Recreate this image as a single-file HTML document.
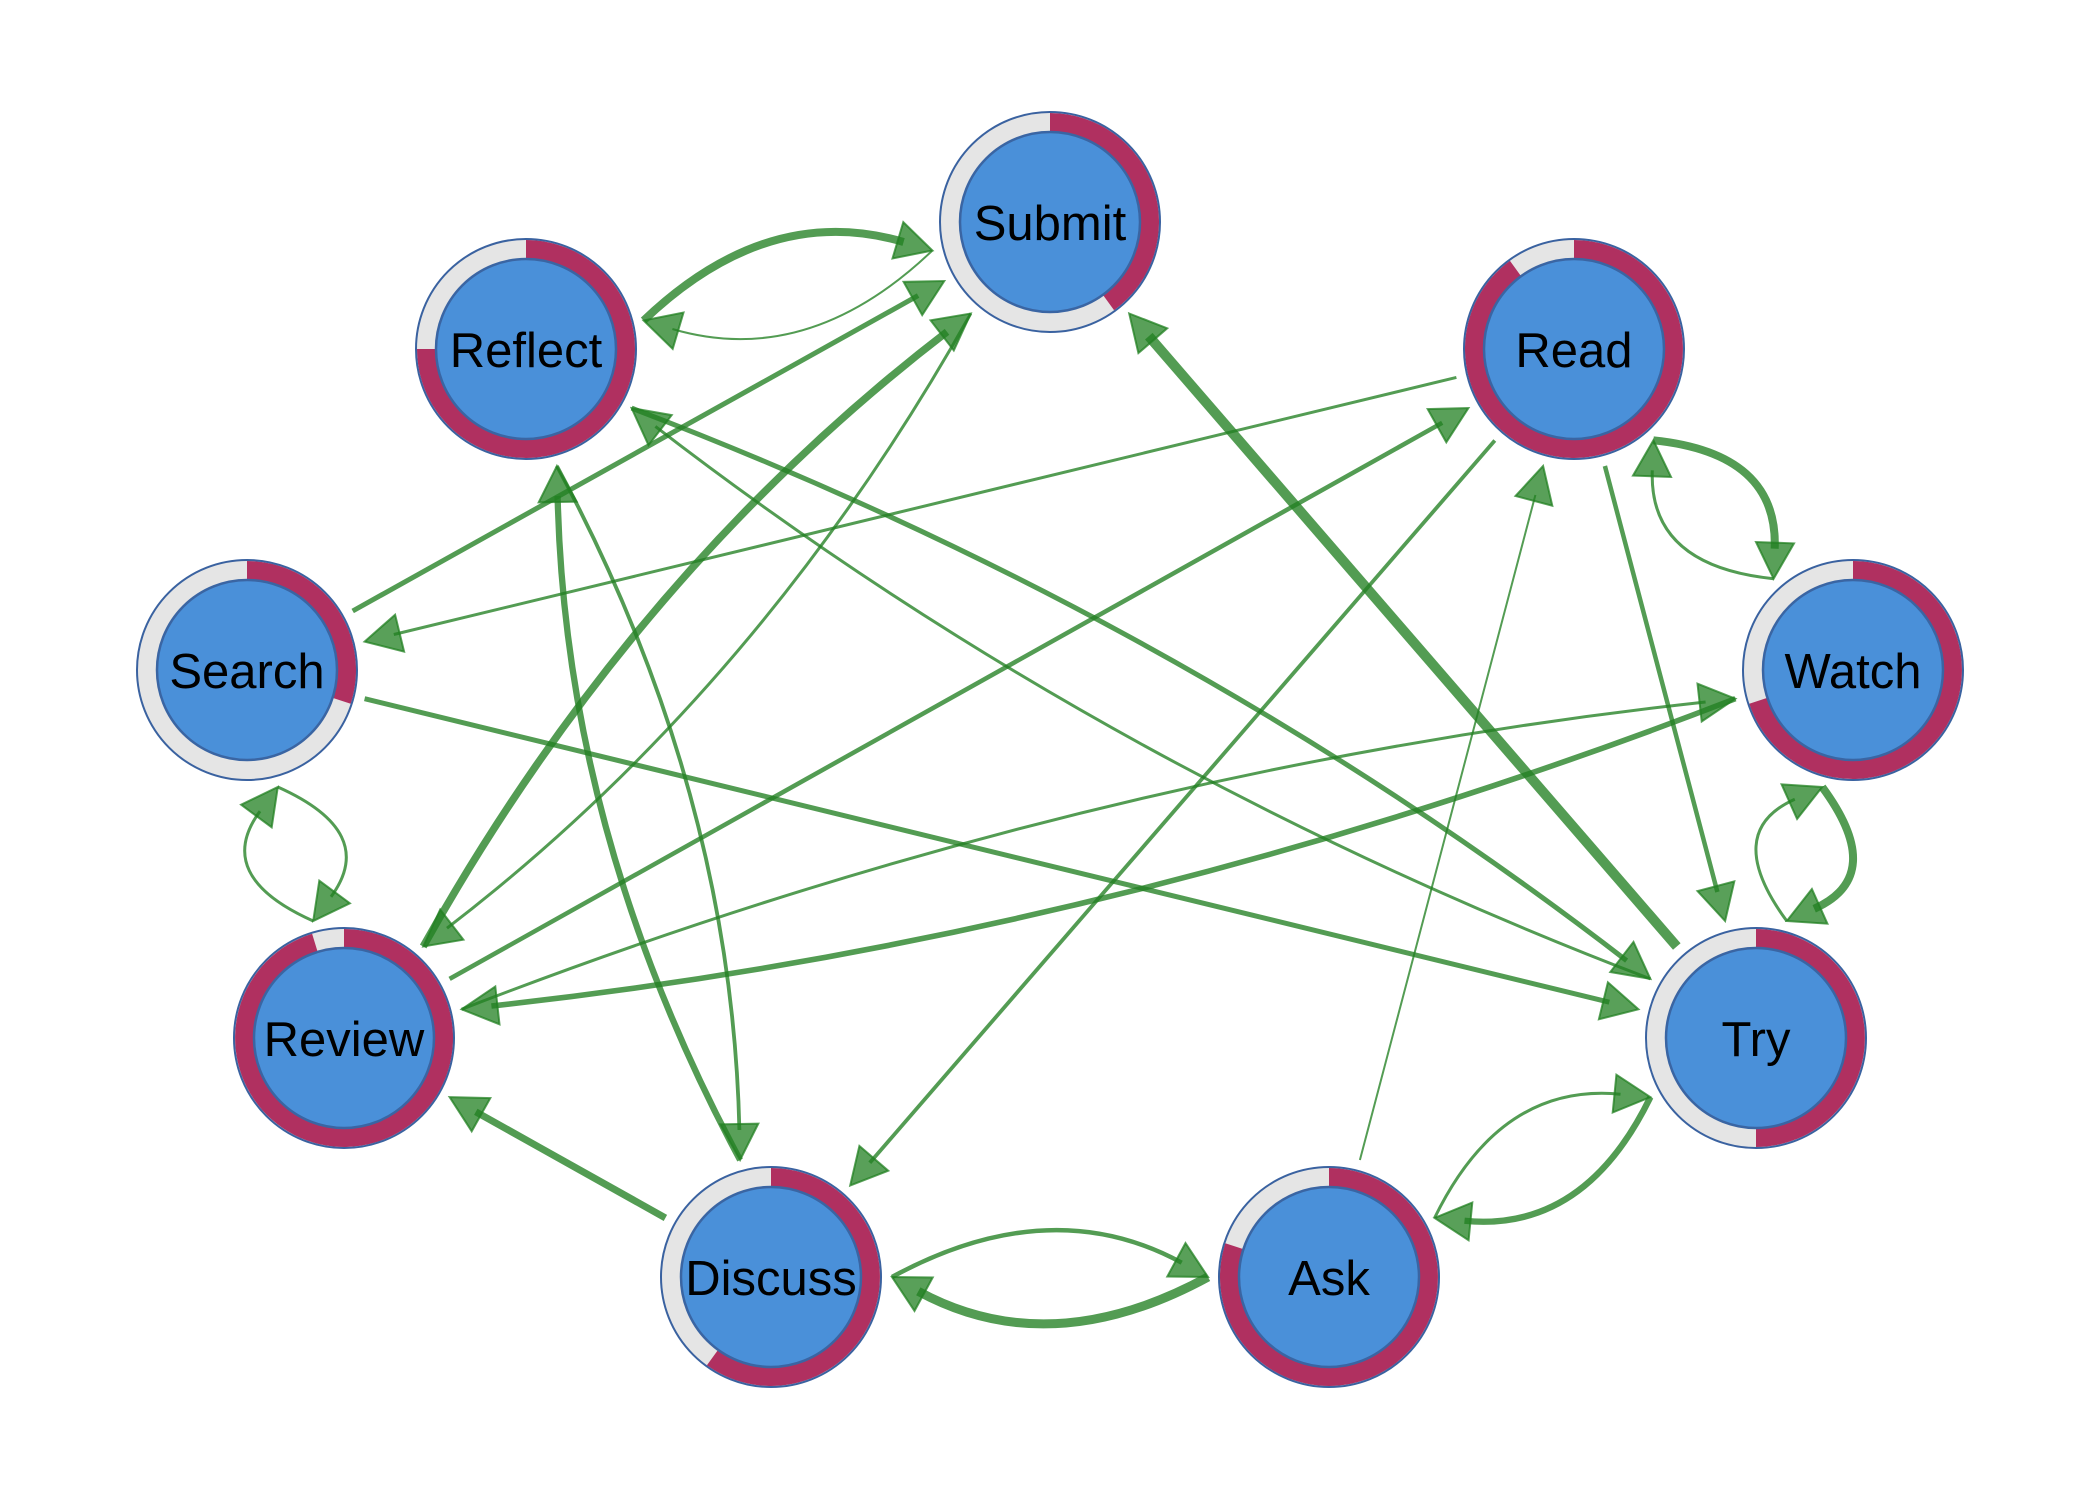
<!DOCTYPE html>
<html>
<head>
<meta charset="utf-8">
<style>
  html, body { margin: 0; padding: 0; background: #ffffff; }
  body { width: 2100px; height: 1500px; overflow: hidden; }
  svg { display: block; }
  .e { fill: none; stroke: rgb(34,128,34); stroke-opacity: 0.78; stroke-linecap: butt; }
  .h { fill: rgb(34,128,34); fill-opacity: 0.75; stroke: rgb(34,128,34); stroke-opacity: 0.75; stroke-width: 2; stroke-linejoin: miter; }
  .ring { fill: #e5e5e5; }
  .red { fill: #b03060; }
  .ob { fill: none; stroke: #3a62a0; stroke-width: 2; }
  .inner { fill: #4a90d9; stroke: #3a65a3; stroke-width: 2.5; }
  .lbl { font-family: "Liberation Sans", Arial, Helvetica, sans-serif; font-size: 49px; fill: #000; text-anchor: middle; }
</style>
</head>
<body>
<svg width="2100" height="1500" viewBox="0 0 2100 1500" xmlns="http://www.w3.org/2000/svg">
  <rect x="0" y="0" width="2100" height="1500" fill="#ffffff"/>

  <!-- Straight edges -->
  <!-- Search -> Submit -->
  <line class="e" x1="352.7" y1="611" x2="918.1" y2="295.6" stroke-width="5"/>
  <polygon class="h" points="944.3,281 922.2,315.1 903.6,281.9"/>
  <!-- Read -> Search -->
  <line class="e" x1="1456.4" y1="377.4" x2="393.8" y2="634.5" stroke-width="3"/>
  <polygon class="h" points="364.6,641.6 395.1,614.7 404.1,651.6"/>
  <!-- Search -> Try -->
  <line class="e" x1="364.6" y1="698.7" x2="1609.3" y2="1002.2" stroke-width="5"/>
  <polygon class="h" points="1638.4,1009.3 1598.9,1019.3 1607.9,982.3"/>
  <!-- Review -> Read -->
  <line class="e" x1="449.6" y1="978.9" x2="1442.2" y2="422.8" stroke-width="4.5"/>
  <polygon class="h" points="1468.4,408.1 1446.3,442.3 1427.7,409.1"/>
  <!-- Read -> Discuss -->
  <line class="e" x1="1494.8" y1="440.5" x2="869.8" y2="1162.8" stroke-width="3.8"/>
  <polygon class="h" points="850.2,1185.5 859.4,1145.9 888.2,1170.7"/>
  <!-- Ask -> Read -->
  <line class="e" x1="1359.9" y1="1160" x2="1535.4" y2="495" stroke-width="2"/>
  <polygon class="h" points="1543.1,466 1552.3,505.7 1515.5,496"/>
  <!-- Read -> Try -->
  <line class="e" x1="1604.9" y1="466" x2="1717.4" y2="892" stroke-width="4.5"/>
  <polygon class="h" points="1725.1,921 1697.5,891.1 1734.3,881.4"/>
  <!-- Try -> Submit -->
  <line class="e" x1="1676.8" y1="946.5" x2="1148.8" y2="336.2" stroke-width="10"/>
  <polygon class="h" points="1129.2,313.5 1167.2,328.3 1138.4,353.1"/>
  <!-- Discuss -> Review -->
  <line class="e" x1="665.4" y1="1217.9" x2="475.8" y2="1111.8" stroke-width="7"/>
  <polygon class="h" points="449.6,1097.1 490.3,1098.1 471.7,1131.3"/>

  <!-- Curved edges -->
  <!-- Reflect -> Submit -->
  <path class="e" d="M 643.6 320.5 Q 767.7 201.9 903.6 242" stroke-width="8"/>
  <polygon class="h" points="932.4,250.5 892.5,258.5 903.3,222.1"/>
  <!-- Submit -> Reflect -->
  <path class="e" d="M 932.4 250.5 Q 808.3 369.1 672.4 329" stroke-width="2"/>
  <polygon class="h" points="643.6,320.5 683.5,312.5 672.7,348.9"/>
  <!-- Review -> Submit -->
  <path class="e" d="M 423.2 946.5 Q 632 573.7 947 331.8" stroke-width="7.5"/>
  <polygon class="h" points="970.8,313.5 953.8,350.5 930.6,320.3"/>
  <!-- Submit -> Review -->
  <path class="e" d="M 970.8 313.5 Q 762 686.3 447 928.2" stroke-width="3"/>
  <polygon class="h" points="423.2,946.5 440.2,909.5 463.4,939.7"/>
  <!-- Reflect -> Discuss -->
  <path class="e" d="M 556.9 466 Q 731.7 791 739.4 1130" stroke-width="3.8"/>
  <polygon class="h" points="740.1,1160 720.3,1124.4 758.3,1123.6"/>
  <!-- Discuss -> Reflect -->
  <path class="e" d="M 740.1 1160 Q 565.3 835 557.6 496" stroke-width="6.3"/>
  <polygon class="h" points="556.9,466 576.7,501.6 538.7,502.4"/>
  <!-- Reflect -> Try -->
  <path class="e" d="M 631.6 408.1 Q 1183 618.5 1626.6 960.6" stroke-width="5"/>
  <polygon class="h" points="1650.4,978.9 1610.3,972 1633.5,941.9"/>
  <!-- Try -> Reflect -->
  <path class="e" d="M 1650.4 978.9 Q 1099 768.5 655.4 426.4" stroke-width="3"/>
  <polygon class="h" points="631.6,408.1 671.7,415.1 648.5,445.2"/>
  <!-- Search -> Review -->
  <path class="e" d="M 277.8 787 Q 378.7 832.1 331 896.8" stroke-width="3"/>
  <polygon class="h" points="313.2,921 319.3,880.7 349.9,903.3"/>
  <!-- Review -> Search -->
  <path class="e" d="M 313.2 921 Q 212.3 875.9 260 811.2" stroke-width="3"/>
  <polygon class="h" points="277.8,787 271.7,827.3 241.1,804.7"/>
  <!-- Read -> Watch -->
  <path class="e" d="M 1653.4 440.3 Q 1778.4 453.1 1774.7 548.7" stroke-width="8"/>
  <polygon class="h" points="1773.6,578.7 1756,542 1794,543.4"/>
  <!-- Watch -> Read -->
  <path class="e" d="M 1773.6 578.7 Q 1648.6 565.9 1652.3 470.3" stroke-width="3"/>
  <polygon class="h" points="1653.4,440.3 1671,477 1633,475.6"/>
  <!-- Review -> Watch -->
  <path class="e" d="M 461.6 1009.3 Q 1078.1 770.5 1705.6 702" stroke-width="3"/>
  <polygon class="h" points="1735.4,698.7 1701.7,721.5 1697.5,683.7"/>
  <!-- Watch -> Review -->
  <path class="e" d="M 1735.4 698.7 Q 1118.9 937.5 491.4 1006" stroke-width="5.6"/>
  <polygon class="h" points="461.6,1009.3 495.3,986.5 499.5,1024.3"/>
  <!-- Watch -> Try -->
  <path class="e" d="M 1822.2 787 Q 1887.7 875.9 1814.2 908.8" stroke-width="8"/>
  <polygon class="h" points="1786.8,921 1811.9,889 1827.4,923.7"/>
  <!-- Try -> Watch -->
  <path class="e" d="M 1786.8 921 Q 1721.3 832.1 1794.8 799.2" stroke-width="3"/>
  <polygon class="h" points="1822.2,787 1797.1,819 1781.6,784.4"/>
  <!-- Ask -> Try -->
  <path class="e" d="M 1434.6 1217.9 Q 1500.5 1082.4 1620.5 1094.2" stroke-width="3"/>
  <polygon class="h" points="1650.4,1097.1 1612.7,1112.5 1616.4,1074.7"/>
  <!-- Try -> Ask -->
  <path class="e" d="M 1650.4 1097.1 Q 1584.5 1232.6 1464.5 1220.8" stroke-width="6.3"/>
  <polygon class="h" points="1434.6,1217.9 1472.3,1202.5 1468.6,1240.3"/>
  <!-- Discuss -> Ask -->
  <path class="e" d="M 892 1277 Q 1050 1191 1181.7 1262.7" stroke-width="4.5"/>
  <polygon class="h" points="1208,1277 1167.3,1276.5 1185.5,1243.1"/>
  <!-- Ask -> Discuss -->
  <path class="e" d="M 1208 1277 Q 1050 1363 918.3 1291.3" stroke-width="9"/>
  <polygon class="h" points="892,1277 932.7,1277.5 914.5,1310.9"/>

  <!-- Nodes -->
  <!-- Submit -->
  <g>
    <circle class="ring" cx="1050" cy="222" r="110"/>
    <path class="red" d="M 1050 222 L 1050 113 A 109 109 0 0 1 1114.1 310.2 Z"/>
    <circle class="ob" cx="1050" cy="222" r="110"/>
    <circle class="inner" cx="1050" cy="222" r="90"/>
    <text class="lbl" x="1050" y="240">Submit</text>
  </g>
  <!-- Reflect -->
  <g>
    <circle class="ring" cx="526" cy="349" r="110"/>
    <path class="red" d="M 526 349 L 526 240 A 109 109 0 1 1 417 349 Z"/>
    <circle class="ob" cx="526" cy="349" r="110"/>
    <circle class="inner" cx="526" cy="349" r="90"/>
    <text class="lbl" x="526" y="367">Reflect</text>
  </g>
  <!-- Read -->
  <g>
    <circle class="ring" cx="1574" cy="349" r="110"/>
    <path class="red" d="M 1574 349 L 1574 240 A 109 109 0 1 1 1509.9 260.8 Z"/>
    <circle class="ob" cx="1574" cy="349" r="110"/>
    <circle class="inner" cx="1574" cy="349" r="90"/>
    <text class="lbl" x="1574" y="367">Read</text>
  </g>
  <!-- Search -->
  <g>
    <circle class="ring" cx="247" cy="670" r="110"/>
    <path class="red" d="M 247 670 L 247 561 A 109 109 0 0 1 350.7 703.7 Z"/>
    <circle class="ob" cx="247" cy="670" r="110"/>
    <circle class="inner" cx="247" cy="670" r="90"/>
    <text class="lbl" x="247" y="688">Search</text>
  </g>
  <!-- Watch -->
  <g>
    <circle class="ring" cx="1853" cy="670" r="110"/>
    <path class="red" d="M 1853 670 L 1853 561 A 109 109 0 1 1 1749.3 703.7 Z"/>
    <circle class="ob" cx="1853" cy="670" r="110"/>
    <circle class="inner" cx="1853" cy="670" r="90"/>
    <text class="lbl" x="1853" y="688">Watch</text>
  </g>
  <!-- Review -->
  <g>
    <circle class="ring" cx="344" cy="1038" r="110"/>
    <path class="red" d="M 344 1038 L 344 929 A 109 109 0 1 1 312.1 933.8 Z"/>
    <circle class="ob" cx="344" cy="1038" r="110"/>
    <circle class="inner" cx="344" cy="1038" r="90"/>
    <text class="lbl" x="344" y="1056">Review</text>
  </g>
  <!-- Try -->
  <g>
    <circle class="ring" cx="1756" cy="1038" r="110"/>
    <path class="red" d="M 1756 1038 L 1756 929 A 109 109 0 0 1 1756 1147 Z"/>
    <circle class="ob" cx="1756" cy="1038" r="110"/>
    <circle class="inner" cx="1756" cy="1038" r="90"/>
    <text class="lbl" x="1756" y="1056">Try</text>
  </g>
  <!-- Discuss -->
  <g>
    <circle class="ring" cx="771" cy="1277" r="110"/>
    <path class="red" d="M 771 1277 L 771 1168 A 109 109 0 1 1 706.9 1365.2 Z"/>
    <circle class="ob" cx="771" cy="1277" r="110"/>
    <circle class="inner" cx="771" cy="1277" r="90"/>
    <text class="lbl" x="771" y="1295">Discuss</text>
  </g>
  <!-- Ask -->
  <g>
    <circle class="ring" cx="1329" cy="1277" r="110"/>
    <path class="red" d="M 1329 1277 L 1329 1168 A 109 109 0 1 1 1225.3 1243.3 Z"/>
    <circle class="ob" cx="1329" cy="1277" r="110"/>
    <circle class="inner" cx="1329" cy="1277" r="90"/>
    <text class="lbl" x="1329" y="1295">Ask</text>
  </g>
</svg>
</body>
</html>
